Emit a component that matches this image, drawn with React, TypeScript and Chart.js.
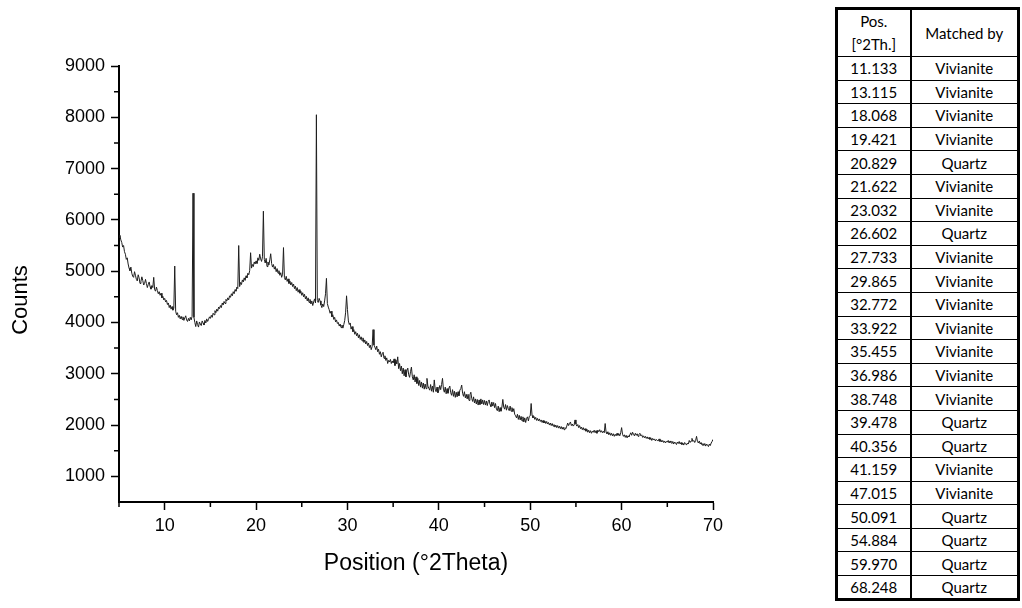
import React, { useEffect, useRef } from "react";
import { Chart, registerables } from "chart.js";

Chart.register(...registerables);

// Sampling grid of the scan (°2Theta)
const START_2THETA = 5.0;
const STEP_2THETA = 0.1;

// Counts, in 5° blocks (0.1° apart)
const counts05 = [
  5660, 5700, 5610, 5560, 5470, 5500, 5380, 5330, 5230, 5260,
  5140, 5060, 5010, 5080, 4960, 4900, 4880, 4990, 4920, 4840,
  4810, 4930, 4870, 4760, 4800, 4890, 4820, 4730, 4760, 4840,
  4760, 4680, 4740, 4790, 4700, 4650, 4720, 4680, 4880, 4640,
  4610, 4690, 4620, 4560, 4600, 4530, 4570, 4480, 4510, 4440,
];
const counts10 = [
  4470, 4400, 4430, 4350, 4380, 4290, 4340, 4260, 4310, 4240,
  4280, 5100, 4220, 4150, 4190, 4100, 4140, 4070, 4120, 4060,
  4110, 4040, 4090, 4130, 4050, 4020, 4080, 4030, 4100, 4050,
  4120, 6520, 4100, 4000, 3920, 4030, 3960, 3910, 4010, 3970,
  3940, 4030, 3990, 3950, 4040, 3990, 4070, 4020, 4060, 4110,
];
const counts15 = [
  4080, 4140, 4100, 4180, 4150, 4230, 4190, 4260, 4220, 4300,
  4270, 4330, 4290, 4380, 4340, 4410, 4370, 4450, 4420, 4480,
  4440, 4520, 4490, 4560, 4520, 4600, 4560, 4640, 4610, 4690,
  4660, 5500, 4700, 4780, 4740, 4830, 4790, 4870, 4820, 4910,
  4870, 4960, 4930, 5010, 5360, 5060, 5130, 5090, 5180, 5140,
];
const counts20 = [
  5200, 5150, 5260, 5210, 5330, 5240, 5190, 5280, 6170, 5230,
  5160, 5250, 5090, 5180, 5120, 5220, 5340, 5150, 5080, 5130,
  5040, 5090, 4990, 5050, 4960, 5010, 4920, 4970, 4880, 4940,
  5460, 4880, 4830, 4900, 4800, 4850, 4760, 4810, 4730, 4780,
  4700, 4750, 4660, 4710, 4620, 4680, 4590, 4640, 4570, 4610,
];
const counts25 = [
  4530, 4580, 4500, 4550, 4460, 4510, 4420, 4480, 4390, 4450,
  4360, 4420, 4330, 4400, 4460, 4380, 8050, 4430, 4390, 4470,
  4420, 4340, 4290, 4360, 4310, 4420, 4560, 4860, 4370, 4300,
  4250, 4180, 4220, 4110, 4150, 4060, 4100, 4010, 4050, 3980,
  4000, 3930, 3970, 3900, 3950, 3890, 3960, 4040, 4200, 4520,
];
const counts30 = [
  4250, 4030, 3960, 3990, 3870, 3920, 3820, 3860, 3770, 3820,
  3740, 3790, 3700, 3760, 3670, 3720, 3640, 3700, 3610, 3660,
  3580, 3630, 3550, 3600, 3510, 3560, 3470, 3530, 3860, 3560,
  3520, 3470, 3540, 3430, 3480, 3380, 3430, 3330, 3390, 3420,
  3300, 3350, 3260, 3310, 3200, 3260, 3230, 3280, 3200, 3250,
];
const counts35 = [
  3210, 3290, 3160, 3270, 3190, 3330, 3100, 3200, 3060, 3150,
  3000, 3110, 2960, 3080, 2940, 3060, 3110, 2980, 2930, 3040,
  3130, 2940, 2880, 2980, 2840, 2940, 2810, 2910, 2770, 2870,
  2740, 2840, 2720, 2820, 2700, 2800, 2710, 2910, 2760, 2720,
  2680, 2790, 2660, 2760, 2640, 2880, 2700, 2650, 2740, 2630,
];
const counts40 = [
  2680, 2770, 2690, 2790, 2910, 2700, 2640, 2740, 2610, 2710,
  2620, 2720, 2760, 2630, 2580, 2690, 2560, 2660, 2540, 2640,
  2550, 2650, 2570, 2680, 2710, 2780, 2620, 2560, 2650, 2530,
  2600, 2510, 2600, 2480, 2590, 2640, 2520, 2460, 2550, 2430,
  2510, 2410, 2500, 2390, 2490, 2400, 2510, 2410, 2490, 2400,
];
const counts45 = [
  2480, 2390, 2470, 2380, 2460, 2490, 2400, 2360, 2450, 2370,
  2440, 2340, 2420, 2310, 2280, 2370, 2260, 2340, 2270, 2350,
  2500, 2350, 2310, 2400, 2290, 2380, 2320, 2280, 2370, 2270,
  2340, 2260, 2320, 2210, 2180, 2140, 2210, 2110, 2190, 2100,
  2170, 2080, 2160, 2060, 2140, 2050, 2130, 2160, 2080, 2170,
];
const counts50 = [
  2180, 2420, 2190, 2140, 2170, 2110, 2150, 2090, 2130, 2080,
  2120, 2070, 2100, 2050, 2090, 2040, 2080, 2030, 2070, 2020,
  2050, 2000, 2040, 1990, 2030, 1980, 2010, 1960, 2000, 1950,
  1990, 1940, 1980, 1930, 1970, 1920, 1960, 1910, 1950, 1930,
  1980, 2040, 1990, 2030, 2060, 1990, 2020, 1980, 2000, 2100,
];
const counts55 = [
  2020, 1980, 2010, 1950, 1990, 1930, 1960, 1910, 1950, 1900,
  1930, 1880, 1920, 1860, 1900, 1850, 1890, 1840, 1880, 1860,
  1900, 1850, 1890, 1840, 1900, 1870, 1910, 1860, 1890, 1850,
  1880, 1850, 2030, 1860, 1830, 1870, 1810, 1850, 1800, 1840,
  1790, 1830, 1780, 1820, 1790, 1840, 1800, 1830, 1790, 1850,
];
const counts60 = [
  1950, 1820, 1780, 1810, 1760, 1800, 1750, 1790, 1770, 1810,
  1850, 1800, 1860, 1820, 1790, 1840, 1800, 1830, 1780, 1820,
  1840, 1790, 1810, 1760, 1790, 1750, 1780, 1740, 1770, 1730,
  1760, 1720, 1750, 1700, 1740, 1710, 1730, 1690, 1720, 1700,
  1690, 1730, 1680, 1710, 1670, 1700, 1660, 1690, 1650, 1680,
];
const counts65 = [
  1670, 1700, 1650, 1690, 1660, 1640, 1680, 1630, 1670, 1650,
  1620, 1670, 1640, 1680, 1630, 1660, 1620, 1650, 1610, 1660,
  1640, 1610, 1650, 1630, 1700, 1660, 1690, 1740, 1680, 1700,
  1660, 1700, 1780, 1680, 1650, 1690, 1630, 1660, 1610, 1640,
  1600, 1640, 1590, 1630, 1610, 1580, 1630, 1600, 1650, 1680,
  1720,
];

// Axis ticks
const xMajorTicks = [10, 20, 30, 40, 50, 60, 70];
const xMinorTicks = [5, 15, 25, 35, 45, 55, 65];
const yMajorTicks = [1000, 2000, 3000, 4000, 5000, 6000, 7000, 8000, 9000];
const yMinorTicks = [1500, 2500, 3500, 4500, 5500, 6500, 7500, 8500];

// Table of matched peaks
const peakPositions = ["11.133", "13.115", "18.068", "19.421", "20.829", "21.622", "23.032", "26.602", "27.733", "29.865", "32.772", "33.922", "35.455", "36.986", "38.748", "39.478", "40.356", "41.159", "47.015", "50.091", "54.884", "59.970", "68.248"];
const matchedBy = ["Vivianite", "Vivianite", "Vivianite", "Vivianite", "Quartz", "Vivianite", "Vivianite", "Quartz", "Vivianite", "Vivianite", "Vivianite", "Vivianite", "Vivianite", "Vivianite", "Vivianite", "Quartz", "Quartz", "Vivianite", "Vivianite", "Quartz", "Quartz", "Quartz", "Quartz"];

const allCounts = [
  ...counts05, ...counts10, ...counts15, ...counts20, ...counts25, ...counts30, ...counts35,
  ...counts40, ...counts45, ...counts50, ...counts55, ...counts60, ...counts65,
];
const points = allCounts.map((c, i) => ({ x: +(START_2THETA + i * STEP_2THETA).toFixed(1), y: c }));

const FONT = '"Liberation Sans", Arial, sans-serif';

const minorTicksPlugin = {
  id: "minorTicks",
  afterDraw(chart: any) {
    const { ctx, chartArea, scales } = chart;
    ctx.save();
    ctx.strokeStyle = "#000";
    ctx.lineWidth = 1.5;
    ctx.beginPath();
    xMinorTicks.forEach((v) => {
      const px = scales.x.getPixelForValue(v);
      ctx.moveTo(px, chartArea.bottom);
      ctx.lineTo(px, chartArea.bottom + 5);
    });
    yMinorTicks.forEach((v) => {
      const py = scales.y.getPixelForValue(v);
      ctx.moveTo(chartArea.left, py);
      ctx.lineTo(chartArea.left - 5, py);
    });
    ctx.stroke();
    ctx.restore();
  },
};

const yTitlePlugin = {
  id: "yTitle",
  afterDraw(chart: any) {
    const { ctx } = chart;
    ctx.save();
    ctx.translate(21, 300);
    ctx.rotate(-Math.PI / 2);
    ctx.fillStyle = "#000";
    ctx.font = `22px ${FONT}`;
    ctx.textAlign = "center";
    ctx.textBaseline = "middle";
    ctx.fillText("Counts", 0, 0);
    ctx.restore();
  },
};

export default function App() {
  const ref = useRef<HTMLCanvasElement>(null);

  useEffect(() => {
    const canvas = ref.current!;
    const chart = new Chart(canvas, {
      type: "line",
      data: {
        datasets: [
          {
            data: points,
            borderColor: "#1e1e1e",
            borderWidth: 1,
            pointRadius: 0,
            tension: 0,
            fill: false,
          },
        ],
      },
      options: {
        responsive: false,
        animation: false,
        devicePixelRatio: 1,
        layout: { padding: { left: 0, top: 66, right: 57, bottom: 0 } },
        plugins: { legend: { display: false }, tooltip: { enabled: false } },
        scales: {
          x: {
            type: "linear",
            min: 5,
            max: 70,
            afterBuildTicks: (s: any) => {
              s.ticks = xMajorTicks.map((v) => ({ value: v }));
            },
            afterFit: (s: any) => {
              s.height = 106;
            },
            border: { display: true, color: "#000", width: 2 },
            grid: { drawOnChartArea: false, drawTicks: true, tickLength: 8, tickColor: "#000", tickWidth: 1.5 },
            ticks: {
              autoSkip: false,
              maxRotation: 0,
              color: "#000",
              font: { family: FONT, size: 18 },
              padding: 5,
              callback: (v: any) => String(v),
            },
            title: {
              display: true,
              text: "Position (°2Theta)",
              color: "#000",
              font: { family: FONT, size: 23 },
              padding: { top: 0, bottom: 31 },
            },
          },
          y: {
            type: "linear",
            min: 500,
            max: 9000,
            afterBuildTicks: (s: any) => {
              s.ticks = yMajorTicks.map((v) => ({ value: v }));
            },
            afterFit: (s: any) => {
              s.width = 119;
            },
            border: { display: true, color: "#000", width: 2 },
            grid: { drawOnChartArea: false, drawTicks: true, tickLength: 8, tickColor: "#000", tickWidth: 1.5 },
            ticks: {
              autoSkip: false,
              color: "#000",
              font: { family: FONT, size: 18 },
              padding: 6,
              callback: (v: any) => String(v),
            },
            title: { display: false },
          },
        },
      },
      plugins: [minorTicksPlugin, yTitlePlugin],
    });
    return () => chart.destroy();
  }, []);

  const cell: React.CSSProperties = {
    border: "1px solid #000",
    textAlign: "center",
    verticalAlign: "middle",
    padding: 0,
    lineHeight: "20px",
  };
  const firstCell: React.CSSProperties = { ...cell, borderRight: "2px solid #000" };

  return (
    <div style={{ position: "fixed", left: 0, top: 0, width: 1022, height: 608, background: "#fff", overflow: "hidden" }}>
      <canvas ref={ref} width={770} height={608} style={{ position: "absolute", left: 0, top: 0, display: "block" }} />
      <table
        style={{
          position: "absolute",
          left: 835,
          top: 7,
          width: 185,
          borderCollapse: "collapse",
          tableLayout: "fixed",
          fontFamily: 'Lato, "Noto Sans", sans-serif',
          fontSize: 15,
          color: "#000",
          border: "3px solid #000",
        }}
      >
        <colgroup>
          <col style={{ width: 74 }} />
          <col />
        </colgroup>
        <tbody>
          <tr style={{ height: 47 }}>
            <td style={{ ...firstCell, lineHeight: "23px" }}>
              Pos.
              <br />
              [°2Th.]
            </td>
            <td style={cell}>Matched by</td>
          </tr>
          {peakPositions.map((p, i) => (
            <tr key={p} style={{ height: 23.6 }}>
              <td style={firstCell}>{p}</td>
              <td style={cell}>{matchedBy[i]}</td>
            </tr>
          ))}
        </tbody>
      </table>
    </div>
  );
}
